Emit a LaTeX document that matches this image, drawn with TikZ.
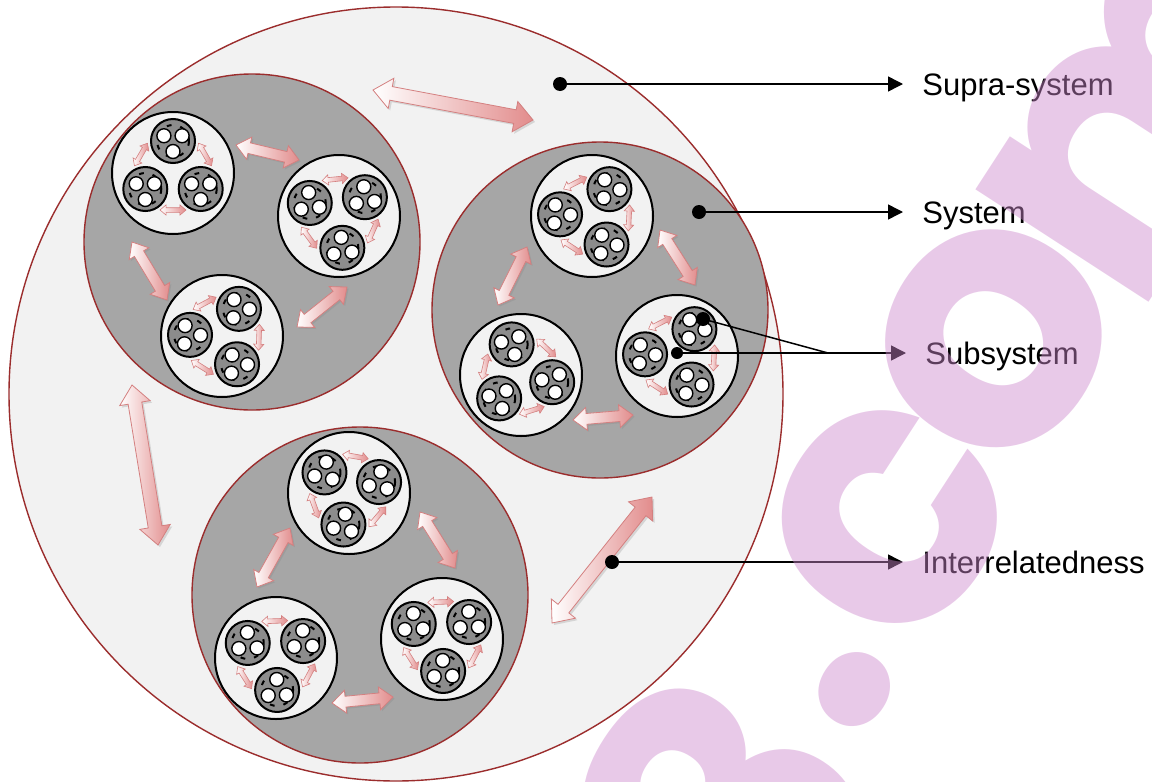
\documentclass[tikz,border=0pt]{standalone}
\usepackage{fontspec}
\setmainfont{Liberation Sans}
\newfontfamily\markfont{Poppins}
\usetikzlibrary{
    arrows.meta,
    calc,
    shapes.arrows,
    shadows
}
\definecolor{edgeRed}{RGB}{155,45,45}
\definecolor{paleGray}{RGB}{242,242,242}
\definecolor{sysGray}{RGB}{166,166,166}
\definecolor{cellGray}{RGB}{140,140,140}
\definecolor{arrPink}{RGB}{226,140,140}
\definecolor{arrEdge}{RGB}{212,128,128}
\definecolor{markPink}{RGB}{204,136,204}
\tikzset{
  supra/.style    = {circle, draw=edgeRed, fill=paleGray, line width=0.7pt,
                     minimum size=387pt, inner sep=0pt},
  syscirc/.style  = {circle, draw=edgeRed, fill=sysGray, line width=0.7pt,
                     minimum size=168pt, inner sep=0pt},
  subcirc/.style  = {circle, draw=black, fill=paleGray, line width=1pt,
                     minimum size=61pt, inner sep=0pt},
  cell/.style     = {circle, draw=black, fill=cellGray, line width=1pt,
                     minimum size=22pt, inner sep=0pt},
  ring/.style     = {draw=black, line width=1pt, dash pattern=on 2.4pt off 4.5pt},
  hole/.style     = {circle, draw=black, fill=white, line width=0.7pt,
                     minimum size=7pt, inner sep=0pt},
  link/.style     = {double arrow, draw=arrEdge, line width=0.4pt, inner xsep=0pt,
                     left color=white, right color=arrPink,
                     double arrow tip angle=80},
  biglink/.style  = {link, inner ysep=3.25pt, double arrow head extend=4.25pt,
                     drop shadow={shadow xshift=1pt, shadow yshift=-1pt, opacity=0.25}},
  midlink/.style  = {link, inner ysep=2.5pt, double arrow head extend=3pt,
                     drop shadow={shadow xshift=0.8pt, shadow yshift=-0.8pt, opacity=0.25}},
  tinylink/.style = {link, inner ysep=1pt, double arrow head extend=1.4pt,
                     minimum height=13pt, line width=0.3pt},
  pin/.style      = {circle, fill=black, minimum size=7pt, inner sep=0pt},
  lbl/.style      = {anchor=west, inner sep=0pt, text height=11pt, text depth=0pt,
                     font=\fontsize{15.5}{18}\selectfont},
  leader/.style   = {line width=0.75pt, -{Triangle[length=7.5pt, width=7.5pt]},
                     shorten >=9.5pt},
  wmark/.style    = {text=markPink, opacity=0.45, inner sep=0pt, rotate=57,
                     font=\fontsize{185}{185}\markfont\bfseries}
}
% double arrow between two tips, white end first
\newcommand{\linkarrow}[4]{%
  \path let \p1=($#4-#3$), \n1={atan2(\y1,\x1)}, \n2={veclen(\x1,\y1)} in
    node[#1, rotate=\n1, minimum height=\n2] (#2) at ($#3!0.5!#4$) {};}
% subsystem: name, x, y, turn
\newcommand{\subsys}[4]{%
  \node[subcirc] (#1) at (#2,#3) {};
  \foreach \k in {0,1,2}{
    \pgfmathsetmacro{\phic}{#4+90+120*\k}
    \pgfmathsetmacro{\phia}{#4+150+120*\k}
    \node[cell] (#1c\k) at ($(#1)+({-\phic}:32)$) {};
    \draw[ring] (#1c\k.center) circle (16);
    \foreach \j in {0,1,2}
      \node[hole] (#1c\k h\j) at ($(#1c\k)+({-\phic-60-120*\j}:10.5)$) {};
    \node[tinylink, rotate=\phia+90] (#1a\k) at ($(#1)+({-\phia}:37)$) {};
  }}

\begin{document}
\begin{tikzpicture}[x=0.5pt, y=-0.5pt]
    \useasboundingbox (0,0) rectangle (1152,782);
    \clip (0,0) rectangle (1152,782);

    % supra-system
    \node[supra] (supra) at (396,394) {};
    \linkarrow{biglink}{lkTop}{(373,90)}{(533,120)}
    \linkarrow{biglink}{lkLeft}{(132,385)}{(158,545)}
    \linkarrow{biglink}{lkRight}{(652,497)}{(552,623)}

    % systems
    \node[syscirc] (sysTL) at (252,242) {};
    \node[syscirc] (sysR) at (600,310) {};
    \node[syscirc] (sysB) at (360,595) {};

    \linkarrow{midlink}{tlAB}{(236,145)}{(299,160)}
    \linkarrow{midlink}{tlAC}{(132,242)}{(167,300)}
    \linkarrow{midlink}{tlBC}{(347,287)}{(297,327)}
    \linkarrow{midlink}{rAB}{(527,247)}{(498,305)}
    \linkarrow{midlink}{rAC}{(660,230)}{(695,285)}
    \linkarrow{midlink}{rBC}{(573,420)}{(633,415)}
    \linkarrow{midlink}{bAB}{(290,528)}{(257,587)}
    \linkarrow{midlink}{bAC}{(420,512)}{(455,568)}
    \linkarrow{midlink}{bBC}{(332,703)}{(393,697)}

    % subsystems
    \subsys{tlA}{173}{173}{0}
    \subsys{tlB}{339}{216}{66}
    \subsys{tlC}{222}{336}{88}
    \subsys{rA}{592}{216}{87}
    \subsys{rB}{521}{375}{17}
    \subsys{rC}{677}{356}{87}
    \subsys{bA}{349}{493}{50}
    \subsys{bB}{276}{658}{62}
    \subsys{bC}{442}{639}{62}

    % labels
    \node[pin] (dsupra) at (560,84) {};
    \node[pin] (dsys) at (699,212) {};
    \node[pin] (dsubA) at (703,319) {};
    \node[pin, minimum size=6pt] (dsubB) at (677,353) {};
    \node[pin] (dlink) at (612,562) {};
    \coordinate (jsub) at (828,353);
    \node[lbl] (tsupra) at (922,84) {Supra-system};
    \node[lbl] (tsys) at (922,212) {System};
    \node[lbl] (tsub) at (925,353) {Subsystem};
    \node[lbl] (tlink) at (922,562) {Interrelatedness};
    \draw[leader] (dsupra.center) -- (tsupra.west);
    \draw[leader] (dsys.center) -- (tsys.west);
    \draw[line width=0.75pt] (dsubA.center) -- (jsub);
    \draw[line width=0.75pt] (dsubB.center) -- (jsub);
    \draw[leader] (jsub) -- (tsub.west);
    \draw[leader] (dlink.center) -- (tlink.west);

    % watermark
    \node[wmark] (wm8) at (722,815) {8};
    \node[wmark] (wmdot) at (855,690) {.};
    \node[wmark] (wmc) at (889,518) {c};
    \node[wmark] (wmo) at (994,338) {o};
    \node[wmark] (wmm) at (1156,100) {m};
\end{tikzpicture}
\end{document}
